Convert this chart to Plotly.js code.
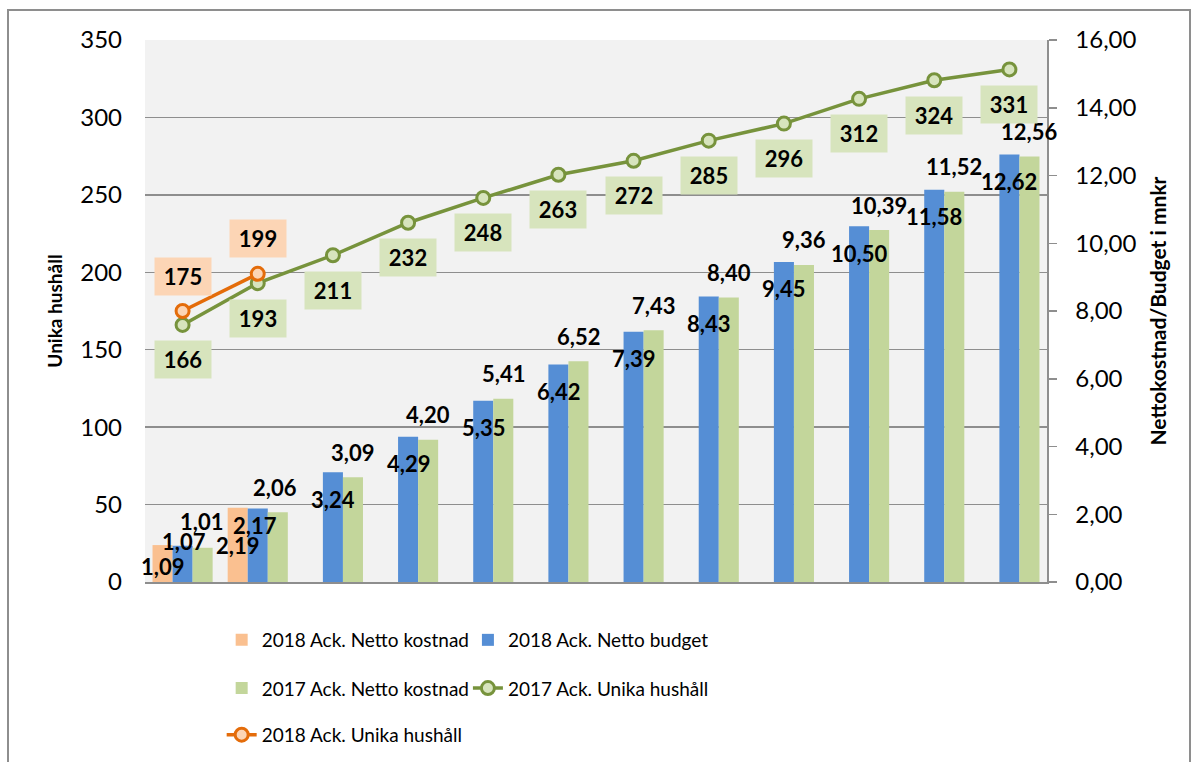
<!DOCTYPE html>
<html>
<head>
<meta charset="utf-8">
<script src="https://cdn.plot.ly/plotly-3.0.1.min.js"></script>
<style>
  body { margin: 0; background: #fff; }
  #frame { position: absolute; left: 7px; top: 9px; width: 1180px; height: 760px; border: 2px solid #8e8e8e; }
  #plot { width: 1180px; height: 760px; }
</style>
</head>
<body>
<div id="frame"><div id="plot"></div></div>
<script>
// Data
var perioder = ['P1', 'P2', 'P3', 'P4', 'P5', 'P6', 'P7', 'P8', 'P9', 'P10', 'P11', 'P12'];
var kostnad2018 = [1.09, 2.19, null, null, null, null, null, null, null, null, null, null];
var budget2018 = [1.07, 2.17, 3.24, 4.29, 5.35, 6.42, 7.39, 8.43, 9.45, 10.50, 11.58, 12.62];
var kostnad2017 = [1.01, 2.06, 3.09, 4.20, 5.41, 6.52, 7.43, 8.40, 9.36, 10.39, 11.52, 12.56];
var hushall2017 = [166, 193, 211, 232, 248, 263, 272, 285, 296, 312, 324, 331];
var hushall2018 = [175, 199];

var FONT = 'Lato, "Open Sans", sans-serif';
var GRAY = '#8e8e8e';

function fmt(v) { return v.toFixed(2).replace('.', ','); }

// bars -> y (right axis), lines -> y2 (left axis, overlaid so they sit on top)
var trKost18 = {
  x: perioder, y: kostnad2018, type: 'bar', name: '2018 Ack. Netto kostnad',
  marker: { color: '#fac090' }, yaxis: 'y', legend: 'legend'
};
var trBudget18 = {
  x: perioder, y: budget2018, type: 'bar', name: '2018 Ack. Netto budget',
  marker: { color: '#558ed5' }, yaxis: 'y', legend: 'legend2'
};
var trKost17 = {
  x: perioder, y: kostnad2017, type: 'bar', name: '2017 Ack. Netto kostnad',
  marker: { color: '#c3d69b' }, yaxis: 'y', legend: 'legend3'
};
var trHus17 = {
  x: perioder, y: hushall2017, type: 'scatter', mode: 'lines+markers', name: '2017 Ack. Unika hushåll',
  line: { color: '#77933c', width: 3.5 },
  marker: { size: 13, color: '#d7e4bd', line: { color: '#77933c', width: 3 } },
  yaxis: 'y2', legend: 'legend4'
};
var trHus18 = {
  x: perioder.slice(0, hushall2018.length), y: hushall2018, type: 'scatter', mode: 'lines+markers',
  name: '2018 Ack. Unika hushåll',
  line: { color: '#e46c0a', width: 3.5 },
  marker: { size: 13, color: '#fcd5b5', line: { color: '#e46c0a', width: 3 } },
  yaxis: 'y2', legend: 'legend5'
};

// data labels
var annotations = [];
var labelFont = { family: FONT, size: 22, color: '#000', weight: 'bold' };
// excel moved the first two groups' labels by hand
var fixOrange = [[0, -21], [0, -38]];
var fixBlue = [[1, 4], [-3, -17]];
var fixGreen = [[-1, 26], [-3, 25]];

function barLabel(i, v, slot, def, fix) {
  var off = fix[i] || def;
  annotations.push({
    x: i, y: v, xref: 'x', yref: 'y', text: fmt(v), showarrow: false,
    xshift: slot * 20 + off[0], yshift: off[1], font: labelFont
  });
}
kostnad2018.forEach(function (v, i) { if (v != null) barLabel(i, v, -1, [0, -27], fixOrange); });
budget2018.forEach(function (v, i) { barLabel(i, v, 0, [0, -27], fixBlue); });
kostnad2017.forEach(function (v, i) { barLabel(i, v, 1, [0, 25], fixGreen); });

function boxLabel(i, v, dy, bg) {
  annotations.push({
    x: i, y: v, xref: 'x', yref: 'y2', text: String(v), showarrow: false,
    yshift: dy, bgcolor: bg, width: 50, height: 31, borderpad: 3, font: labelFont
  });
}
hushall2017.forEach(function (v, i) { boxLabel(i, v, -35, '#d7e4bd'); });
hushall2018.forEach(function (v, i) { boxLabel(i, v, 35, '#fcd5b5'); });

var legFont = { family: FONT, size: 19, color: '#000' };
function leg(x, y) {
  return { x: x, y: y, xanchor: 'left', yanchor: 'middle', orientation: 'h',
           font: legFont, bgcolor: 'rgba(0,0,0,0)' };
}

var layout = {
  width: 1180, height: 760,
  margin: { l: 136, r: 142, t: 29, b: 189 },
  paper_bgcolor: '#fff', plot_bgcolor: '#f2f2f2',
  font: { family: FONT, color: '#000' },
  separators: ',.',
  barmode: 'group', bargap: 0.2, bargroupgap: 0,
  xaxis: {
    type: 'category', range: [-0.5, perioder.length - 0.5],
    showticklabels: false, ticks: '', showgrid: false,
    showline: true, linecolor: GRAY, linewidth: 2, zeroline: false
  },
  yaxis: {
    side: 'right', range: [0, 16], dtick: 2, tickformat: '.2f',
    showgrid: false, zeroline: false,
    showline: true, linecolor: GRAY, linewidth: 1.5,
    ticks: 'outside', ticklen: 8, tickwidth: 1.5, tickcolor: GRAY,
    ticklabelstandoff: 14,
    tickfont: { family: FONT, size: 24, color: '#000' },
    title: { text: 'Nettokostnad/Budget i mnkr', standoff: 16,
             font: { family: FONT, size: 21, color: '#000', weight: 'bold' } }
  },
  yaxis2: {
    side: 'left', overlaying: 'y', range: [0, 350], dtick: 50,
    showgrid: true, gridcolor: GRAY, gridwidth: 1.5, zeroline: false,
    showline: false, ticks: '', ticklabelstandoff: 22,
    tickfont: { family: FONT, size: 24, color: '#000' },
    title: { text: 'Unika hushåll', standoff: 12,
             font: { family: FONT, size: 19, color: '#000', weight: 'bold' } }
  },
  legend: leg(0.085, -0.107),
  legend2: leg(0.358, -0.107),
  legend3: leg(0.085, -0.196),
  legend4: leg(0.358, -0.196),
  legend5: leg(0.085, -0.282),
  annotations: annotations,
  showlegend: true
};

Plotly.newPlot('plot', [trKost18, trBudget18, trKost17, trHus17, trHus18], layout,
  { displayModeBar: false, staticPlot: true });
</script>
</body>
</html>
